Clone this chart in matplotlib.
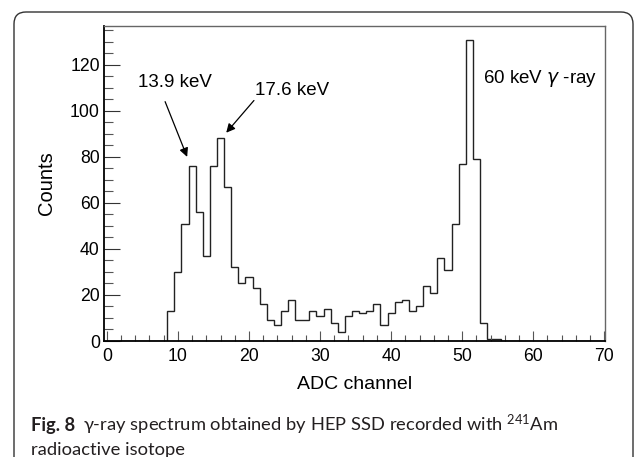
import numpy as np
import matplotlib
matplotlib.use("Agg")
import matplotlib.pyplot as plt
import matplotlib.patches as mpatches

# ADC channel (bin centres) and counts
channels = np.arange(0, 70)
counts = np.zeros(70)
counts[9:56] = [13, 30, 51, 76, 56, 37, 76, 88, 67, 32,
                25, 28, 23, 16, 9, 7, 13, 18, 9, 9,
                13, 11, 14, 8, 4, 11, 13, 12, 13, 16,
                7, 12, 17, 18, 13, 15, 24, 21, 36, 31,
                51, 77, 131, 79, 8, 1, 1]

x_ticks = [0, 10, 20, 30, 40, 50, 60, 70]
y_ticks = [0, 20, 40, 60, 80, 100, 120]

plt.rcParams['mathtext.fontset'] = 'custom'
plt.rcParams['mathtext.rm'] = 'Lato'
plt.rcParams['mathtext.it'] = 'DejaVu Sans:italic'
plt.rcParams['mathtext.default'] = 'regular'

W, H = 635, 457
fig = plt.figure(figsize=(W / 100, H / 100), dpi=100)
ax = fig.add_axes([104 / W, 1 - 341 / H, (605 - 104) / W, (341 - 25.7) / H])

edges = np.append(channels - 0.5, channels[-1] + 0.5)
ax.stairs(counts, edges, color='#222222', linewidth=1.0, baseline=None)

ax.set_xlim(-0.4, 70.1)
ax.set_ylim(0, 137)
ax.set_xticks(x_ticks)
ax.set_yticks(y_ticks)
ax.set_xticks(np.arange(0, 71, 2), minor=True)
ax.set_yticks(np.arange(0, 137, 5), minor=True)

lab_font = {'family': 'Liberation Sans', 'size': 12.7}
ax.set_xticklabels([str(v) for v in x_ticks], **lab_font)
ax.set_yticklabels([str(v) for v in y_ticks], **lab_font)
ax.tick_params(axis='x', which='major', direction='in', length=7.2, width=0.8,
               color='#555555', pad=5)
ax.tick_params(axis='x', which='minor', direction='in', length=4, width=0.8,
               color='#555555')
ax.tick_params(axis='y', which='major', direction='in', length=11.3, width=0.8,
               color='#333333', pad=3)
ax.tick_params(axis='y', which='minor', direction='in', length=6.3, width=0.8,
               color='#555555')

for s in ['left', 'bottom']:
    ax.spines[s].set_linewidth(1.3)
    ax.spines[s].set_color('black')
for s in ['top', 'right']:
    ax.spines[s].set_linewidth(1.0)
    ax.spines[s].set_color('#666666')

ax.set_xlabel('ADC channel', fontsize=14, family='Liberation Sans', labelpad=8)
ax.set_ylabel('Counts', fontsize=14.5, family='Liberation Sans', labelpad=10)

ann_font = dict(fontsize=13.5, family='Liberation Sans')
arrow = dict(arrowstyle='-|>', color='black', lw=0.9, shrinkA=0, shrinkB=0,
             mutation_scale=13)
ax.text(9.6, 112.3, '13.9 keV', ha='center', va='center', **ann_font)
ax.annotate('', xy=(11.3, 80), xytext=(8.2, 104), arrowprops=arrow)
ax.text(26.1, 108.8, '17.6 keV', ha='center', va='center', **ann_font)
ax.annotate('', xy=(16.8, 90.5), xytext=(20.7, 104.5), arrowprops=arrow)
ax.text(53.0, 114.2, '60 keV $\\mathit{\\gamma}$ -ray', ha='left', va='center', **ann_font)

# rounded frame around figure and caption
box = mpatches.FancyBboxPatch((14, -20), 619, H - 12 + 20,
                              boxstyle='round,pad=0,rounding_size=12',
                              transform=None, fill=False, edgecolor='#333333', lw=1.0)
fig.patches.append(box)

cap = dict(fontsize=13.2, family='Lato', color='#231f20', va='center')
t1 = fig.text(31 / W, 1 - 425 / H, 'Fig. 8', fontweight='bold', **cap)
fig.canvas.draw()
bb = t1.get_window_extent()
fig.text((bb.x1 + 8) / W, 1 - 425 / H,
         '\u03b3-ray spectrum obtained by HEP SSD recorded with $^{241}$Am', **cap)
fig.text(31 / W, 1 - 450 / H, 'radioactive isotope', **cap)

fig.savefig('out.png', dpi=100)
